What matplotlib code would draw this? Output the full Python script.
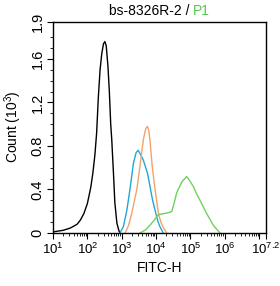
import numpy as np
import matplotlib
matplotlib.use("Agg")
import matplotlib.pyplot as plt
from matplotlib.ticker import FixedLocator, NullFormatter

plt.rcParams["font.family"] = ["Liberation Sans", "DejaVu Sans"]
plt.rcParams["mathtext.fontset"] = "custom"
plt.rcParams["mathtext.rm"] = "Liberation Sans"
plt.rcParams["mathtext.it"] = "Liberation Sans"

# histogram traces, x in decades (log10 FITC-H), y in counts x 10^3
black_x = [1.00, 1.30, 1.50, 1.70, 1.80, 1.90, 2.00, 2.10, 2.16, 2.22, 2.27, 2.32,
           2.37, 2.42, 2.47, 2.51, 2.55, 2.60, 2.64, 2.68, 2.71, 2.76, 2.80, 2.86,
           2.92, 2.95]
black_y = [0.01, 0.025, 0.045, 0.08, 0.12, 0.18, 0.27, 0.42, 0.55, 0.72, 0.92, 1.25,
           1.50, 1.65, 1.74, 1.76, 1.72, 1.53, 1.30, 1.00, 0.86, 0.55, 0.28, 0.09,
           0.02, 0.00]
blue_x = [2.95, 3.05, 3.15, 3.24, 3.34, 3.42, 3.48, 3.55, 3.63, 3.70, 3.75, 3.84,
          3.90, 3.97, 4.05, 4.11, 4.21]
blue_y = [0.00, 0.06, 0.21, 0.40, 0.64, 0.74, 0.76, 0.72, 0.67, 0.60, 0.55, 0.40,
          0.30, 0.21, 0.11, 0.06, 0.00]
orange_x = [3.10, 3.20, 3.29, 3.44, 3.53, 3.63, 3.70, 3.75, 3.79, 3.82, 3.89, 3.97,
            4.07, 4.14, 4.21, 4.31]
orange_y = [0.00, 0.07, 0.18, 0.40, 0.61, 0.86, 0.96, 0.98, 0.94, 0.86, 0.61, 0.40,
            0.18, 0.10, 0.05, 0.00]
green_x = [3.53, 3.70, 3.82, 3.95, 4.07, 4.26, 4.40, 4.46, 4.53, 4.60, 4.75, 4.89,
           4.98, 5.08, 5.18, 5.28, 5.47, 5.67, 5.86]
green_y = [0.00, 0.03, 0.07, 0.12, 0.17, 0.18, 0.19, 0.20, 0.28, 0.37, 0.47, 0.52,
           0.48, 0.43, 0.36, 0.30, 0.18, 0.07, 0.00]

y_ticks = [0, 0.4, 0.8, 1.2, 1.6, 1.94]
y_labels = ["0", "0.4", "0.8", "1.2", "1.6", "1.9"]
x_ticks = [1e1, 1e2, 1e3, 1e4, 1e5, 1e6, 1e7, 10 ** 7.2]
x_labels = ["$10^1$", "$10^2$", "$10^3$", "$10^4$", "$10^5$", "$10^6$", "", "$10^{7.2}$"]

fig = plt.figure(figsize=(2.8, 2.86), dpi=100)
ax = fig.add_axes([53 / 280, 1 - 233 / 286, 213 / 280, 211 / 286])

ax.plot(np.power(10, black_x), black_y, color="black", lw=1.0)
ax.plot(np.power(10, blue_x), blue_y, color="#22a6d4", lw=1.0)
ax.plot(np.power(10, orange_x), orange_y, color="#f2a36a", lw=1.0)
ax.plot(np.power(10, green_x), green_y, color="#6fd05c", lw=1.0)

ax.set_xscale("log")
ax.set_xlim(1e1, 10 ** 7.2)
ax.set_ylim(0, 1.94)

ax.xaxis.set_major_locator(FixedLocator(x_ticks))
ax.set_xticklabels(x_labels)
minor_x = [m * 10 ** d for d in range(1, 8) for m in range(2, 10) if m * 10 ** d < 10 ** 7.2]
ax.xaxis.set_minor_locator(FixedLocator(minor_x))
ax.xaxis.set_minor_formatter(NullFormatter())

ax.set_yticks(y_ticks)
ax.set_yticklabels(y_labels, rotation=90, va="center")
ax.yaxis.set_minor_locator(FixedLocator([0.1, 0.2, 0.3, 0.5, 0.6, 0.7, 0.9, 1.0, 1.1,
                                         1.3, 1.4, 1.5, 1.7, 1.8]))

ax.tick_params(axis="both", which="major", direction="out", length=4, width=0.8,
               labelsize=10.5, pad=2, color="black")
ax.tick_params(axis="x", which="major", labelsize=9.5)
ax.tick_params(axis="both", which="minor", direction="out", length=2, width=0.6)
for s in ax.spines.values():
    s.set_linewidth(1.0)

fig.text(13 / 280, 1 - 127 / 286, "Count (10$^3$)", rotation=90, ha="center",
         va="center", fontsize=10)
fig.text(160 / 280, 1 - 268 / 286, "FITC-H", ha="center", va="center", fontsize=10)
fig.text(193 / 280, 1 - 11 / 286, "bs-8326R-2 / ", ha="right", va="center", fontsize=10)
fig.text(193 / 280, 1 - 11 / 286, "P1", ha="left", va="center", fontsize=10,
         color="#55c84a")

fig.savefig("out.png", dpi=100)
